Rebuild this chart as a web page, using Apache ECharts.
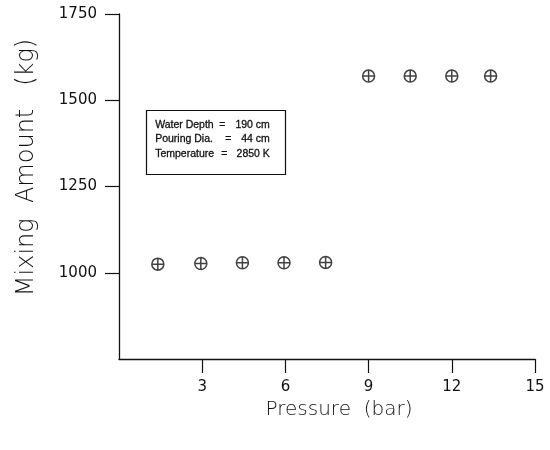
<!DOCTYPE html>
<html>
<head>
<meta charset="utf-8">
<script src="https://cdn.jsdelivr.net/npm/echarts@6/dist/echarts.min.js"></script>
<style>
  html, body { margin: 0; padding: 0; background: #fff; }
  #chart { width: 550px; height: 450px; }
</style>
</head>
<body>
<div id="chart"></div>
<script>
// Mixing amount versus ambient pressure
const pressure = [1.4, 2.95, 4.45, 5.95, 7.45, 9.0, 10.5, 12.0, 13.4];
const mixingAmount = [1025, 1027, 1029, 1029, 1030, 1570, 1570, 1570, 1570];

const xTicks = { min: 0, max: 15, interval: 3 };
const yTicks = { min: 750, max: 1750, interval: 250 };

const noteLabels = ['Water Depth', 'Pouring Dia.', 'Temperature'];
const noteValues = ['190 cm', '44 cm', '2850 K'];

const FONT = 'DejaVu Sans';
const NOTE_FONT = '10.5px "Liberation Sans"';
const INK = '#111';

// circle with a cross through it
const crossCircle = 'path://M6,0A6,6,0,1,1,6,12A6,6,0,1,1,6,0ZM6,0L6,12M0,6L12,6';

const chart = echarts.init(document.getElementById('chart'), null, { renderer: 'canvas' });

const axisCommon = {
  axisLine: { show: true, onZero: false, lineStyle: { color: INK, width: 1.3 } },
  axisTick: { show: true, inside: false, length: 14, lineStyle: { color: INK, width: 1.2 } },
  splitLine: { show: false },
  axisLabel: { color: INK, fontFamily: FONT, fontSize: 15, showMinLabel: false, formatter: v => String(v) },
  nameTextStyle: { color: INK, fontFamily: FONT, fontSize: 20, fontWeight: 300 }
};

// annotation block: label, "=" and value on each line
const noteText = [];
const eqX = [219, 225, 221];
noteLabels.forEach((lab, i) => {
  const y = 119 + i * 14.5;
  const st = { font: NOTE_FONT, fill: INK, stroke: INK, lineWidth: 0.3 };
  noteText.push({ type: 'text', left: 155, top: y, style: Object.assign({ text: lab }, st) });
  noteText.push({ type: 'text', left: eqX[i], top: y, style: Object.assign({ text: '=' }, st) });
  noteText.push({ type: 'text', right: 550 - 270, top: y, style: Object.assign({ text: noteValues[i] }, st) });
});

chart.setOption({
  animation: false,
  backgroundColor: '#fff',
  grid: { left: 119, right: 15, top: 14, bottom: 91 },
  xAxis: Object.assign({}, axisCommon, {
    type: 'value',
    min: xTicks.min, max: xTicks.max, interval: xTicks.interval,
    name: 'Pressure  (bar)',
    nameLocation: 'middle',
    nameGap: 40,
    nameTextStyle: Object.assign({}, axisCommon.nameTextStyle, { fontSize: 20, padding: [0, 0, 0, 24] }),
    axisLabel: Object.assign({}, axisCommon.axisLabel, { margin: 21 })
  }),
  yAxis: Object.assign({}, axisCommon, {
    type: 'value',
    min: yTicks.min, max: yTicks.max, interval: yTicks.interval,
    name: 'Mixing  Amount   (kg)',
    nameLocation: 'middle',
    nameGap: 80,
    nameTextStyle: Object.assign({}, axisCommon.nameTextStyle, { fontSize: 24, padding: [0, 0, 0, 38] }),
    axisLabel: Object.assign({}, axisCommon.axisLabel, { margin: 22 })
  }),
  graphic: [
    {
      type: 'rect', left: 144, top: 108,
      shape: { width: 139, height: 64 },
      style: { fill: 'none', stroke: INK, lineWidth: 1.2 }
    }
  ].concat(noteText),
  series: [{
    type: 'scatter',
    data: pressure.map((p, i) => [p, mixingAmount[i]]),
    symbol: crossCircle,
    symbolSize: 12,
    symbolKeepAspect: true,
    itemStyle: { color: 'rgba(0,0,0,0)', borderColor: INK, borderWidth: 1.5 }
  }]
});
</script>
</body>
</html>
